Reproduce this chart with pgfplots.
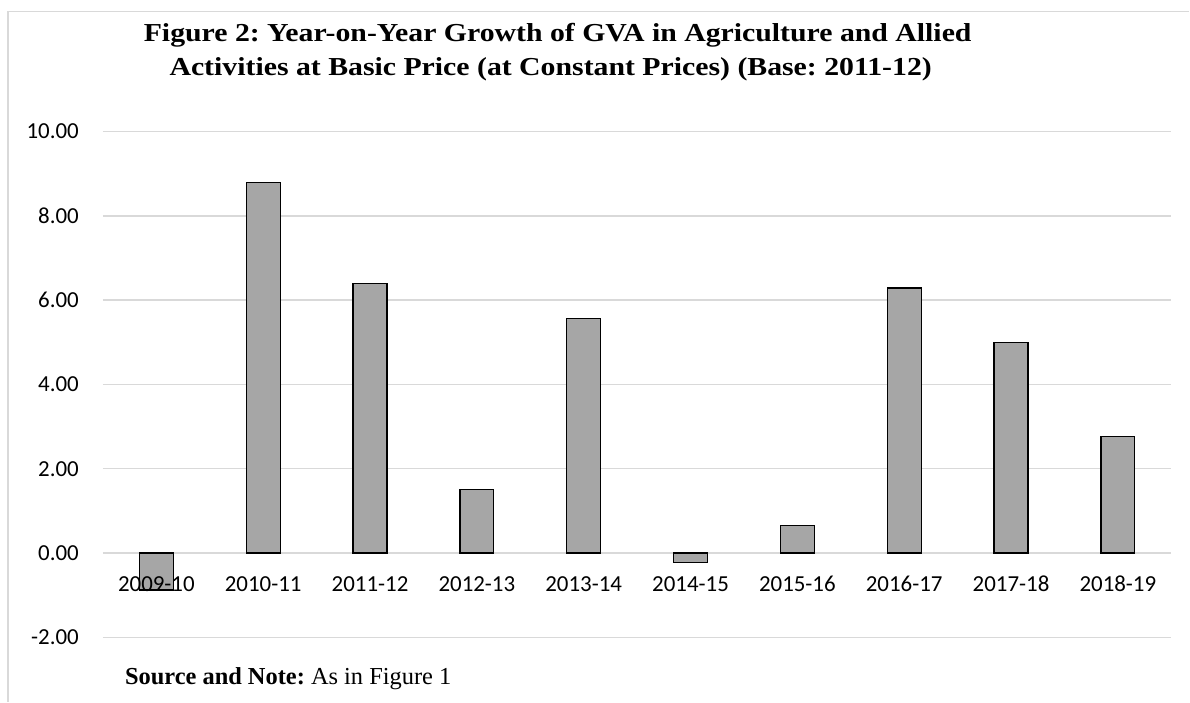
\documentclass[border=0pt]{standalone}
\usepackage{pgfplots}
\pgfplotsset{compat=1.18}
\usepackage{fontspec}
\setmainfont{Liberation Serif}
\newfontfamily\calfont{Carlito}
\definecolor{gridc}{HTML}{D9D9D9}
\definecolor{barc}{HTML}{A6A6A6}
\pgfplotsset{
  base/.style={
    at={(103bp,64.4bp)}, anchor=south west,
    scale only axis, width=1069bp, height=505.9bp,
    xmin=-0.5, xmax=9.5, ymin=-2, ymax=10,
    ytick={-2,0,2,4,6,8,10},
    xtick={0,...,9},
    axis x line*=middle, axis y line*=left,
    axis line style={draw=none},
    tick style={draw=none}, major tick length=0pt,
    hide obscured x ticks=false, hide obscured y ticks=false,
  }
}
\begin{document}
\frenchspacing
\begin{tikzpicture}[x=1bp,y=1bp]
\path (0,0) rectangle (1190,702);
\draw[gridc, line width=1.5bp] (8,0) -- (8,690.5) -- (1190,690.5);
\node[anchor=base, inner sep=0, font=\bfseries\fontsize{26}{30}\selectfont] at (558,660) {\scalebox{1.15}[1]{Figure 2: Year-on-Year Growth of GVA in Agriculture and Allied}};
\node[anchor=base, inner sep=0, font=\bfseries\fontsize{26}{30}\selectfont] at (551,626) {\scalebox{1.15}[1]{Activities at Basic Price (at Constant Prices) (Base: 2011-12)}};
\node[anchor=base west, inner sep=0, font=\fontsize{24.5}{29}\selectfont] at (125,17) {\textbf{Source and Note:} As in Figure 1};
\begin{axis}[
  base,
  xticklabels={},
  /pgf/number format/fixed,
  /pgf/number format/fixed zerofill,
  /pgf/number format/precision=2,
  /pgf/number format/assume math mode=true,
  ticklabel style={font=\calfont\fontsize{23}{27}\selectfont, inner sep=0pt},
  yticklabel style={anchor=east, xshift=-24bp},
  ymajorgrids, grid style={gridc, line width=1.3bp},
  ybar, bar width=34bp,
]
\addplot[ybar, fill=barc, draw=black, line width=1.3bp] coordinates {(0,-0.88) (1,8.80) (2,6.40) (3,1.50) (4,5.57) (5,-0.22) (6,0.65) (7,6.29) (8,4.99) (9,2.76)};
\end{axis}
\begin{axis}[
  base,
  yticklabels={},
  xticklabels={2009-10,2010-11,2011-12,2012-13,2013-14,2014-15,2015-16,2016-17,2017-18,2018-19},
  ticklabel style={font=\calfont\fontsize{23}{27}\selectfont, inner sep=0pt},
  xticklabel style={anchor=base, yshift=-38.4bp},
]
\end{axis}
\end{tikzpicture}
\end{document}
